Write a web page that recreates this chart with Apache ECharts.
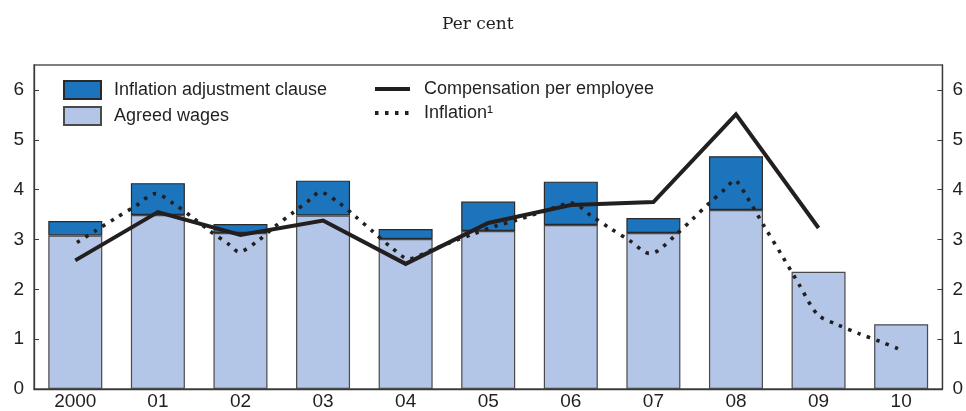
<!DOCTYPE html>
<html>
<head>
<meta charset="utf-8">
<script src="https://cdn.jsdelivr.net/npm/echarts@6/dist/echarts.min.js"></script>
<style>
html,body{margin:0;padding:0;background:#fff;}
#chart{width:966px;height:411px;}
</style>
</head>
<body>
<div id="chart"></div>
<script>
// ---- data ----
var years = ['2000','01','02','03','04','05','06','07','08','09','10'];
var agreedWages = [3.08, 3.49, 3.13, 3.48, 3.01, 3.17, 3.29, 3.13, 3.59, 2.35, 1.30];
var inflationClause = [0.29, 0.64, 0.18, 0.70, 0.20, 0.59, 0.87, 0.30, 1.08, null, null];
var compensation = [2.58, 3.55, 3.09, 3.38, 2.51, 3.33, 3.69, 3.75, 5.51, 3.23, null];
// inflation curve: position measured in years from 2000 (year centre = integer)
var inflationPos = [0.02,0.25,0.49,0.73,0.97,1.19,1.42,1.63,1.87,1.98,2.20,2.41,2.63,2.85,2.96,3.18,3.40,3.61,3.82,4.04,4.30,4.56,4.82,5.09,5.35,5.75,6.01,6.25,6.48,6.72,6.95,7.06,7.27,7.47,7.67,7.88,7.98,8.13,8.34,8.56,8.77,8.99,9.23,9.49,9.75,9.99];
var inflationVal = [2.94,3.18,3.43,3.67,3.92,3.72,3.44,3.17,2.89,2.75,2.96,3.25,3.53,3.81,3.95,3.75,3.45,3.15,2.85,2.61,2.78,2.95,3.11,3.27,3.39,3.61,3.73,3.47,3.22,2.97,2.72,2.78,3.09,3.40,3.72,4.03,4.19,3.86,3.27,2.67,2.08,1.49,1.29,1.11,0.95,0.79];
var yTicks = [0,1,2,3,4,5,6];

var inflationData = inflationPos.map(function (p, i) { return [p, inflationVal[i]]; });

var FONT = "'Liberation Sans', Arial, Helvetica, sans-serif";
var TXT = '#231f20';
var chart = echarts.init(document.getElementById('chart'), null, {renderer: 'canvas'});

function yAxisDef(pos) {
  return {
    type: 'value', position: pos, min: 0, max: 6.5, interval: 1,
    splitLine: {show: false},
    axisLine: {show: true, onZero: false, lineStyle: {color: '#3a3a3a', width: 1.3}},
    axisTick: {show: true, inside: true, length: 5, customValues: yTicks, lineStyle: {color: '#3a3a3a', width: 1}},
    axisLabel: {customValues: yTicks, fontFamily: FONT, fontSize: 19, color: TXT, margin: 10}
  };
}

chart.setOption({
  animation: false,
  title: {
    text: 'Per cent', left: 437, top: 11,
    textStyle: {fontFamily: "'DejaVu Serif', serif", fontSize: 17, fontWeight: 'normal', color: TXT}
  },
  grid: {left: 34, right: 23, top: 65, bottom: 21, show: true, borderColor: '#555', borderWidth: 1.3, containLabel: false},
  legend: [
    {
      orient: 'vertical', left: 63, top: 80, itemWidth: 37, itemHeight: 18, itemGap: 6, icon: 'rect',
      data: ['Inflation adjustment clause', 'Agreed wages'],
      textStyle: {fontFamily: FONT, fontSize: 18, color: TXT, padding: [0,0,0,8]},
      padding: 0
    },
    {
      orient: 'vertical', left: 373, top: 80, itemWidth: 35, itemHeight: 18, itemGap: 6,
      data: ['Compensation per employee', 'Inflation¹'],
      itemStyle: {opacity: 0},
      lineStyle: {width: 4},
      textStyle: {fontFamily: FONT, fontSize: 18, color: TXT, padding: [0,0,0,9]},
      padding: 0
    }
  ],
  xAxis: [
    {
      type: 'category', data: years, boundaryGap: true,
      axisLine: {show: true, onZero: false, lineStyle: {color: '#3a3a3a', width: 1.3}},
      axisTick: {show: false},
      axisLabel: {fontFamily: FONT, fontSize: 19, color: TXT, margin: 3, interval: 0}
    },
    {type: 'value', min: -0.5, max: 10.5, show: false, axisLine: {onZero: false}}
  ],
  yAxis: [yAxisDef('left'), yAxisDef('right')],
  series: [
    {
      name: 'Agreed wages', type: 'bar', stack: 'w', barWidth: 54, data: agreedWages,
      itemStyle: {color: '#b4c6e7', borderColor: '#4a4a4a', borderWidth: 1.2}
    },
    {
      name: 'Inflation adjustment clause', type: 'bar', stack: 'w', barWidth: 54, data: inflationClause,
      itemStyle: {color: '#1c75bc', borderColor: '#2a2a2a', borderWidth: 1.2}
    },
    {
      name: 'Inflation¹', type: 'line', xAxisIndex: 1, data: inflationData, smooth: 0.3,
      symbol: 'none', z: 4,
      lineStyle: {color: '#231f20', width: 3.6, type: [3.5, 6.5], cap: 'butt'},
      itemStyle: {color: '#231f20'}
    },
    {
      name: 'Compensation per employee', type: 'line', data: compensation,
      symbol: 'none', z: 5, connectNulls: false,
      lineStyle: {color: '#231f20', width: 4, cap: 'butt', join: 'miter'},
      itemStyle: {color: '#231f20'}
    }
  ]
});
</script>
</body>
</html>
